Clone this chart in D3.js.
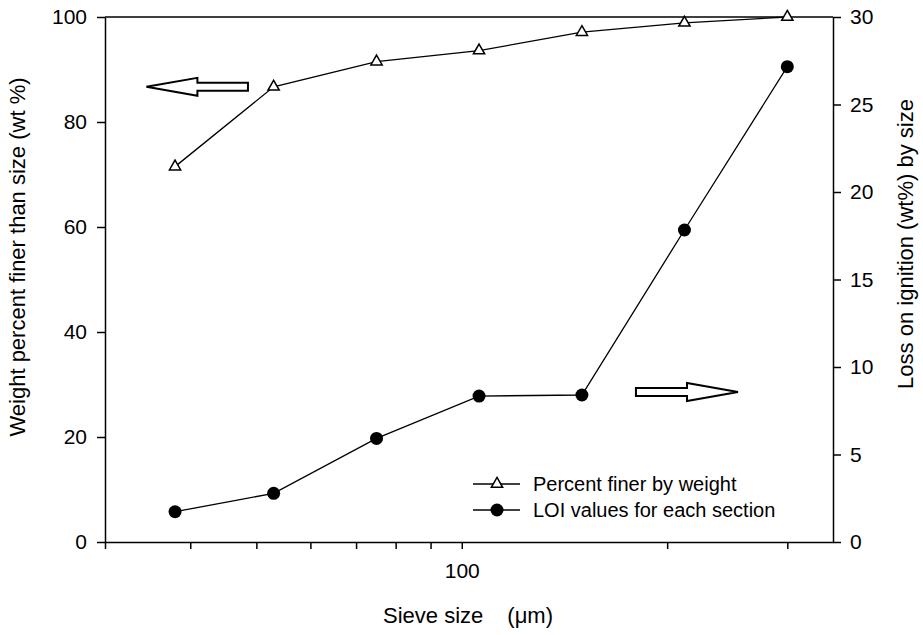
<!DOCTYPE html>
<html>
<head>
<meta charset="utf-8">
<script src="https://cdn.jsdelivr.net/npm/d3@7"></script>
<style>
  body { margin: 0; background: #fff; }
  svg { font-family: "Liberation Sans", Arial, sans-serif; }
  .axis path, .axis line { stroke: #000; stroke-width: 1.5; }
  .axis text { font-size: 21px; fill: #000; }
  .title { font-size: 22px; fill: #000; }
  .legend text { font-size: 20px; fill: #000; }
</style>
</head>
<body>
<svg width="923" height="635"></svg>
<script>

// sieve sizes (um)
const sieveSizes = [38, 53, 75, 106, 150, 212, 300];
// percent finer by weight (left axis)
const percentFiner = [71.5, 86.7, 91.5, 93.6, 97.1, 98.9, 100];
// LOI values (right axis, wt%)
const loiValues = [1.73, 2.78, 5.92, 8.34, 8.4, 17.83, 27.16];

const xTicks = [30, 40, 50, 60, 70, 80, 90, 100, 200, 300];
const leftTicks = [0, 20, 40, 60, 80, 100];
const rightTicks = [0, 5, 10, 15, 20, 25, 30];

const svg = d3.select('svg');

const margin = { top: 17, right: 90, bottom: 93, left: 105 };
const width = 923 - margin.left - margin.right;
const height = 635 - margin.top - margin.bottom;

const chart = svg.append('g')
  .attr('transform', `translate(${margin.left}, ${margin.top})`);

const xScale = d3.scaleLog().domain([30, 350]).range([0, width]);
const yLeft = d3.scaleLinear().domain([0, 100]).range([height, 0]);
const yRight = d3.scaleLinear().domain([0, 30]).range([height, 0]);

// axes
chart.append('g')
  .attr('class', 'axis')
  .call(d3.axisLeft(yLeft).tickValues(leftTicks).tickSize(8).tickPadding(10).tickSizeOuter(0));

chart.append('g')
  .attr('class', 'axis')
  .attr('transform', `translate(${width}, 0)`)
  .call(d3.axisRight(yRight).tickValues(rightTicks).tickSize(8).tickPadding(9).tickSizeOuter(0));

chart.append('g')
  .attr('class', 'axis')
  .attr('transform', `translate(0, ${height})`)
  .call(d3.axisBottom(xScale).tickValues(xTicks).tickSize(7).tickPadding(14).tickSizeOuter(0)
    .tickFormat(d => d === 100 ? '100' : ''));

// top frame line
chart.append('line')
  .attr('x1', 0).attr('x2', width)
  .attr('y1', 0).attr('y2', 0)
  .attr('stroke', '#000').attr('stroke-width', 1.5);

const finerData = sieveSizes.map((s, i) => ({ size: s, v: percentFiner[i] }));
const loiData = sieveSizes.map((s, i) => ({ size: s, v: loiValues[i] }));

const lineLeft = d3.line().x(d => xScale(d.size)).y(d => yLeft(d.v));
const lineRight = d3.line().x(d => xScale(d.size)).y(d => yRight(d.v));

chart.append('path')
  .datum(finerData)
  .attr('d', lineLeft)
  .attr('fill', 'none').attr('stroke', '#000').attr('stroke-width', 1.3);

chart.append('path')
  .datum(loiData)
  .attr('d', lineRight)
  .attr('fill', 'none').attr('stroke', '#000').attr('stroke-width', 1.3);

const tri = d3.symbol(d3.symbolTriangle, 55);

chart.selectAll('.tri')
  .data(finerData)
  .enter()
  .append('path')
  .attr('class', 'tri')
  .attr('d', tri)
  .attr('transform', d => `translate(${xScale(d.size)}, ${yLeft(d.v)})`)
  .attr('fill', '#fff').attr('stroke', '#000').attr('stroke-width', 1.5);

chart.selectAll('.dot')
  .data(loiData)
  .enter()
  .append('circle')
  .attr('class', 'dot')
  .attr('cx', d => xScale(d.size))
  .attr('cy', d => yRight(d.v))
  .attr('r', 6.5)
  .attr('fill', '#000');

// arrows pointing to each series' axis (data units)
const arrows = [
  { from: 48.6, to: 34.5, v: 86.7, scale: yLeft },
  { from: 180, to: 254, v: 8.57, scale: yRight }
];

arrows.forEach(a => {
  const x0 = xScale(a.from), x1 = xScale(a.to), y = a.scale(a.v);
  const dir = Math.sign(x1 - x0);
  const hb = x1 - dir * 51;
  const pts = [
    [x0, y - 4], [hb, y - 4], [hb, y - 9], [x1, y],
    [hb, y + 9], [hb, y + 4], [x0, y + 4]
  ];
  chart.append('path')
    .attr('d', d3.line()(pts) + 'Z')
    .attr('fill', '#fff').attr('stroke', '#000').attr('stroke-width', 2);
});

// legend
const legend = svg.append('g').attr('class', 'legend');
const legendItems = ['Percent finer by weight', 'LOI values for each section'];
legendItems.forEach((label, i) => {
  const y = 484 + i * 26;
  legend.append('line')
    .attr('x1', 473).attr('x2', 520).attr('y1', y).attr('y2', y)
    .attr('stroke', '#000').attr('stroke-width', 1.3);
  if (i === 0) {
    legend.append('path').attr('d', tri)
      .attr('transform', `translate(497, ${y})`)
      .attr('fill', '#fff').attr('stroke', '#000').attr('stroke-width', 1.5);
  } else {
    legend.append('circle').attr('cx', 497).attr('cy', y).attr('r', 6.5).attr('fill', '#000');
  }
  legend.append('text')
    .attr('x', 533).attr('y', y)
    .attr('dy', '0.35em')
    .text(label);
});

// axis titles
svg.append('text')
  .attr('class', 'title')
  .attr('transform', 'translate(25, 257) rotate(-90)')
  .attr('text-anchor', 'middle')
  .text('Weight percent finer than size (wt %)');

svg.append('text')
  .attr('class', 'title')
  .attr('transform', 'translate(913, 244) rotate(-90)')
  .attr('text-anchor', 'middle')
  .text('Loss on ignition (wt%) by size');

const xTitle = svg.append('text')
  .attr('class', 'title')
  .attr('x', 468).attr('y', 623)
  .attr('text-anchor', 'middle');
xTitle.append('tspan').text('Sieve size');
xTitle.append('tspan').attr('dx', 24).text('(μm)');

</script>
</body>
</html>
